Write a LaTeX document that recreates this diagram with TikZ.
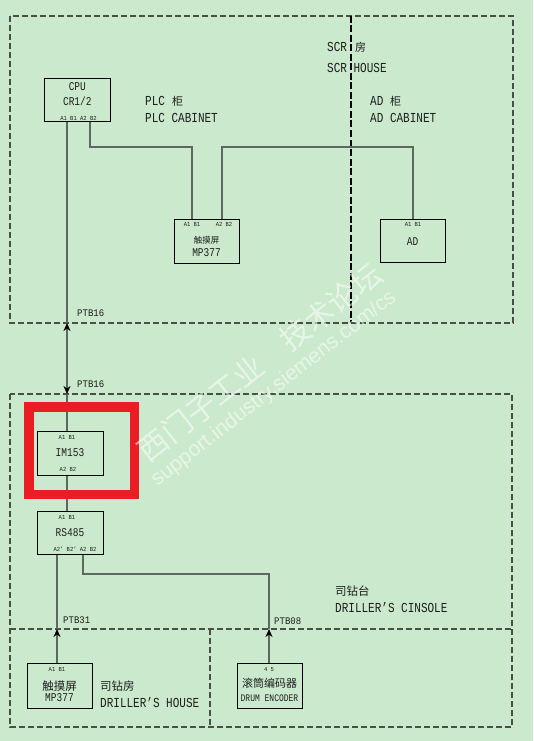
\documentclass[tikz,border=0pt]{standalone}
\usepackage{fontspec}
\setmainfont{Liberation Mono}
\newfontfamily\cjk{Noto Sans CJK SC}
\newfontfamily\wmfont{Liberation Sans}
\usetikzlibrary{arrows.meta}
\newcommand\tx[1]{\scalebox{1}[1.25]{#1}}
\newcommand\tp[1]{\scalebox{1}[1.12]{#1}}
\definecolor{bgc}{RGB}{203,233,205}
\definecolor{zonec}{RGB}{72,78,72}
\definecolor{wirec}{RGB}{95,104,96}
\definecolor{redc}{RGB}{236,28,36}
\definecolor{txtc}{RGB}{30,30,30}
\tikzset{
  unit/.style={draw=black, line width=1pt, inner sep=0pt, minimum width=65pt, minimum height=44pt},
  zone/.style={draw=zonec, line width=1.2pt, dash pattern=on 6pt off 3pt},
  wire/.style={draw=wirec, line width=1.3pt},
  lbl/.style={font=\fontsize{11}{13}\selectfont, text=txtc, anchor=west, inner sep=0pt},
  cjklbl/.style={font=\cjk\fontsize{11}{13}\selectfont, text=txtc, anchor=west, inner sep=0pt},
  ptb/.style={font=\fontsize{9}{10}\selectfont, text=txtc, anchor=west, inner sep=0pt},
  pinlbl/.style={font=\fontsize{5.5}{6}\selectfont, text=txtc, inner sep=0pt},
  unitname/.style={font=\fontsize{9.5}{11}\selectfont, text=txtc, inner sep=0pt},
  unitcjk/.style={font=\cjk\fontsize{8.5}{10}\selectfont, text=txtc, inner sep=0pt},
  uparrow/.style={-{Stealth[length=8pt,width=7pt,inset=2.5pt,color=black]}},
  dblarrow/.style={{Stealth[length=8pt,width=7pt,inset=2.5pt,color=black]}-{Stealth[length=8pt,width=7pt,inset=2.5pt,color=black]}},
  wmark/.style={text=white, text opacity=0.55, inner sep=0pt, rotate=38}
}
\begin{document}
\begin{tikzpicture}[x=1pt,y=-1pt]
\useasboundingbox[fill=bgc] (0,0) rectangle (533,741);

% zones
\draw[zone] (10,16) rectangle (513,323);
\draw[zone, draw=black, dash pattern=on 7pt off 2.5pt] (351,16) -- (351,323);
\draw[zone] (10,394) rectangle (512,727);
\draw[zone] (10,629) -- (512,629);
\draw[zone] (210,629) -- (210,727);

% units
\node[unit, minimum width=65.3pt, minimum height=43pt] (cpu) at (77.35,100.5) {};
\node[unit] (mpA) at (206.5,241) {};
\node[unit, minimum height=43pt] (ad) at (412.5,240.5) {};
\node[unit, minimum width=66pt] (im) at (70,453) {};
\node[unit, minimum width=66pt, minimum height=43pt] (rs) at (70,532.5) {};
\node[unit, minimum height=45pt] (mpB) at (59.5,685.5) {};
\node[unit, minimum height=45pt] (enc) at (269.5,685.5) {};

% coordinates
\coordinate (pA) at (67,323);
\coordinate (pB) at (67,394);
\coordinate (pC) at (57,629);
\coordinate (pD) at (269,629);
\coordinate (c1) at (90,147);
\coordinate (c2) at (192,147);
\coordinate (c3) at (222,147);
\coordinate (c4) at (413,147);
\coordinate (c5) at (83,574);

% wires
\draw[wire] (cpu.south -| pA) -- (pA);
\draw[wire, dblarrow] (pB) -- (pA);
\draw[wire] (pB) -- (im.north -| pB);
\draw[wire] (im.south -| pB) -- (rs.north -| pB);
\draw[wire] (cpu.south -| c1) -- (c1) -- (c2) -- (mpA.north -| c2);
\draw[wire] (mpA.north -| c3) -- (c3) -- (c4) -- (ad.north -| c4);
\draw[wire] (rs.south -| pC) -- (pC);
\draw[wire, uparrow] (mpB.north -| pC) -- (pC);
\draw[wire] (rs.south -| c5) -- (c5) -- (c5 -| pD) -- (pD);
\draw[wire, uparrow] (enc.north -| pD) -- (pD);

% unit texts
\node[unitname] (cpuT1) at (77.35,87) {\tx{CPU}};
\node[unitname] (cpuT2) at (77.35,101) {\tx{CR1/2}};
\node[pinlbl] (cpuP) at (78.5,118) {\tp{A1 B1 A2 B2}};

\node[pinlbl] (mpAP1) at (192,224) {\tp{A1 B1}};
\node[pinlbl] (mpAP2) at (224,224) {\tp{A2 B2}};
\node[unitcjk] (mpAT1) at (206.5,240) {触摸屏};
\node[unitname] (mpAT2) at (206.5,253) {\tx{MP377}};

\node[pinlbl] (adP) at (413,224) {\tp{A1 B1}};
\node[unitname] (adT) at (412.5,242) {\tx{AD}};

\node[pinlbl] (imP1) at (67,437) {\tp{A1 B1}};
\node[unitname] (imT) at (70,453) {\tx{IM153}};
\node[pinlbl] (imP2) at (68,469) {\tp{A2 B2}};

\node[pinlbl] (rsP1) at (67,517) {\tp{A1 B1}};
\node[unitname] (rsT) at (70,533) {\tx{RS485}};
\node[pinlbl] (rsP2) at (75,549) {\tp{A2' B2'  A2 B2}};

\node[pinlbl] (mpBP) at (57,669) {\tp{A1 B1}};
\node[unitcjk, font=\cjk\fontsize{11.5}{13}\selectfont] (mpBT1) at (59.5,686) {触摸屏};
\node[unitname] (mpBT2) at (59.5,698) {\tx{MP377}};

\node[pinlbl] (encP) at (269,669) {\tp{4 5}};
\node[unitcjk, font=\cjk\fontsize{11}{13}\selectfont] (encT1) at (269.5,683) {滚筒编码器};
\node[unitname, font=\fontsize{8}{9}\selectfont] (encT2) at (269.5,698) {\tx{DRUM ENCODER}};

% zone labels
\node[lbl] (scr1a) at (327,47) {\tx{SCR}};
\node[cjklbl] (scr1b) at (355,47) {房};
\node[lbl] (scr2) at (327,68) {\tx{SCR HOUSE}};
\node[lbl] (plc1a) at (145,101) {\tx{PLC}};
\node[cjklbl] (plc1b) at (172,101) {柜};
\node[lbl] (plc2) at (145,118) {\tx{PLC CABINET}};
\node[lbl] (ad1a) at (370,101) {\tx{AD}};
\node[cjklbl] (ad1b) at (390,101) {柜};
\node[lbl] (ad2) at (370,118) {\tx{AD CABINET}};
\node[cjklbl, font=\cjk\fontsize{11.5}{13}\selectfont] (dc1) at (335,591) {司钻台};
\node[lbl] (dc2) at (335,608) {\tx{DRILLER’S CINSOLE}};
\node[cjklbl, font=\cjk\fontsize{11.5}{13}\selectfont] (dh1) at (100,686) {司钻房};
\node[lbl] (dh2) at (100,703) {\tx{DRILLER’S HOUSE}};

\node[ptb] (ptb1) at (77,313) {\tp{PTB16}};
\node[ptb] (ptb2) at (77,384) {\tp{PTB16}};
\node[ptb] (ptb3) at (63,620) {\tp{PTB31}};
\node[ptb] (ptb4) at (274,621) {\tp{PTB08}};

% highlight
\node[draw=redc, line width=9.5pt, minimum width=105.5pt, minimum height=87.5pt, inner sep=0pt] (hl) at (81.5,450.5) {};

% watermark
\node[wmark, font=\cjk\fontsize{30}{32}\selectfont] (wm1) at (260,362) {西门子工业　技术论坛};
\node[wmark, font=\wmfont\fontsize{21}{23}\selectfont] (wm2) at (274,389) {support.industry.siemens.com/cs};
\end{tikzpicture}
\end{document}
